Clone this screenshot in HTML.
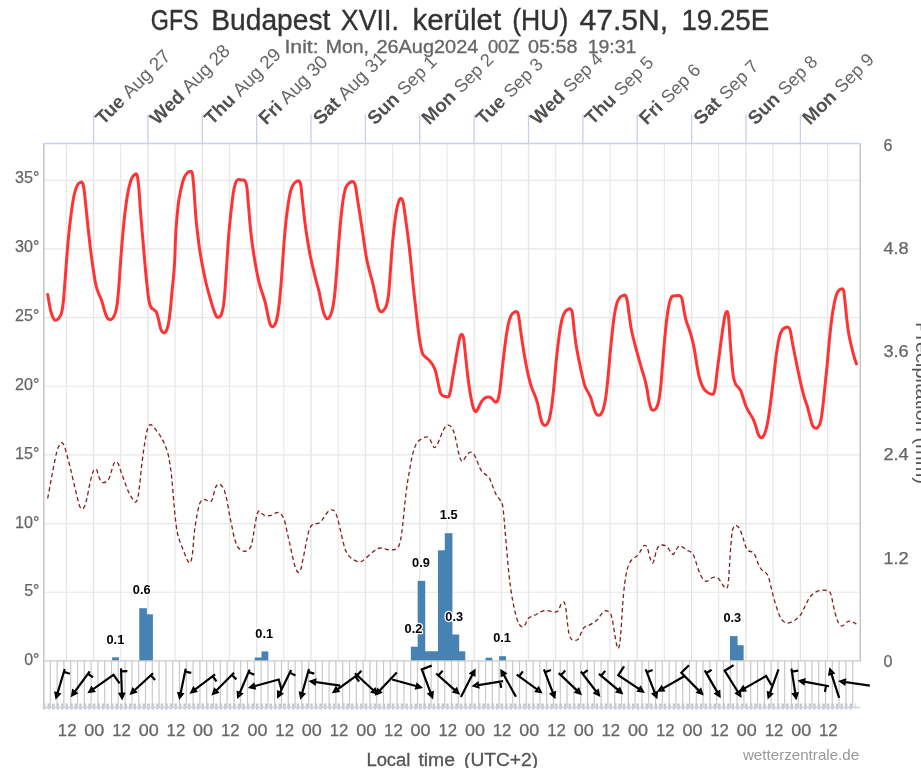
<!DOCTYPE html><html><head><meta charset="utf-8"><title>GFS Budapest XVII. kerület</title>
<style>html,body{margin:0;padding:0;background:#fff;}svg{display:block;}text{font-family:"Liberation Sans",sans-serif;}</style></head><body>
<svg style="will-change:transform" width="921" height="768" viewBox="0 0 921 768">
<rect width="921" height="768" fill="#ffffff"/>
<path d="M43.6,592.24H860.3M43.6,523.58H860.3M43.6,454.92H860.3M43.6,386.26H860.3M43.6,317.6H860.3M43.6,248.94H860.3M43.6,180.28H860.3" stroke="#e7e7e7" stroke-width="1.2" fill="none"/>
<path d="M66.36,143.5V660.9M120.73,143.5V660.9M175.1,143.5V660.9M229.47,143.5V660.9M283.84,143.5V660.9M338.21,143.5V660.9M392.58,143.5V660.9M446.95,143.5V660.9M501.32,143.5V660.9M555.69,143.5V660.9M610.06,143.5V660.9M664.43,143.5V660.9M718.8,143.5V660.9M773.17,143.5V660.9M827.54,143.5V660.9" stroke="#e8e8e8" stroke-width="1.2" fill="none"/>
<path d="M93.55,143.5V660.9M147.92,143.5V660.9M202.29,143.5V660.9M256.66,143.5V660.9M311.03,143.5V660.9M365.4,143.5V660.9M419.77,143.5V660.9M474.14,143.5V660.9M528.51,143.5V660.9M582.88,143.5V660.9M637.25,143.5V660.9M691.62,143.5V660.9M745.99,143.5V660.9M800.36,143.5V660.9" stroke="#e4e4e4" stroke-width="1.35" fill="none"/>
<path d="M50.3,660.9V707.5M57.1,660.9V707.5M63.9,660.9V707.5M70.7,660.9V707.5M77.5,660.9V707.5M84.3,660.9V707.5M91.1,660.9V707.5M97.9,660.9V707.5M104.7,660.9V707.5M111.5,660.9V707.5M118.3,660.9V707.5M125.1,660.9V707.5M131.9,660.9V707.5M138.7,660.9V707.5M145.5,660.9V707.5M152.3,660.9V707.5M159.1,660.9V707.5M165.9,660.9V707.5M172.7,660.9V707.5M179.5,660.9V707.5M186.3,660.9V707.5M193.1,660.9V707.5M199.9,660.9V707.5M206.7,660.9V707.5M213.5,660.9V707.5M220.3,660.9V707.5M227.1,660.9V707.5M233.9,660.9V707.5M240.7,660.9V707.5M247.5,660.9V707.5M254.3,660.9V707.5M261.1,660.9V707.5M267.9,660.9V707.5M274.7,660.9V707.5M281.5,660.9V707.5M288.3,660.9V707.5M295.1,660.9V707.5M301.9,660.9V707.5M308.7,660.9V707.5M315.5,660.9V707.5M322.3,660.9V707.5M329.1,660.9V707.5M335.9,660.9V707.5M342.7,660.9V707.5M349.5,660.9V707.5M356.3,660.9V707.5M363.1,660.9V707.5M369.9,660.9V707.5M376.7,660.9V707.5M383.5,660.9V707.5M390.3,660.9V707.5M397.1,660.9V707.5M403.9,660.9V707.5M410.7,660.9V707.5M417.5,660.9V707.5M424.3,660.9V707.5M431.1,660.9V707.5M437.9,660.9V707.5M444.7,660.9V707.5M451.5,660.9V707.5M458.3,660.9V707.5M465.1,660.9V707.5M471.9,660.9V707.5M478.7,660.9V707.5M485.5,660.9V707.5M492.3,660.9V707.5M499.1,660.9V707.5M505.9,660.9V707.5M512.7,660.9V707.5M519.5,660.9V707.5M526.3,660.9V707.5M533.1,660.9V707.5M539.9,660.9V707.5M546.7,660.9V707.5M553.5,660.9V707.5M560.3,660.9V707.5M567.1,660.9V707.5M573.9,660.9V707.5M580.7,660.9V707.5M587.5,660.9V707.5M594.3,660.9V707.5M601.1,660.9V707.5M607.9,660.9V707.5M614.7,660.9V707.5M621.5,660.9V707.5M628.3,660.9V707.5M635.1,660.9V707.5M641.9,660.9V707.5M648.7,660.9V707.5M655.5,660.9V707.5M662.3,660.9V707.5M669.1,660.9V707.5M675.9,660.9V707.5M682.7,660.9V707.5M689.5,660.9V707.5M696.3,660.9V707.5M703.1,660.9V707.5M709.9,660.9V707.5M716.7,660.9V707.5M723.5,660.9V707.5M730.3,660.9V707.5M737.1,660.9V707.5M743.9,660.9V707.5M750.7,660.9V707.5M757.5,660.9V707.5M764.3,660.9V707.5M771.1,660.9V707.5M777.9,660.9V707.5M784.7,660.9V707.5M791.5,660.9V707.5M798.3,660.9V707.5M805.1,660.9V707.5M811.9,660.9V707.5M818.7,660.9V707.5M825.5,660.9V707.5M832.3,660.9V707.5M839.1,660.9V707.5M845.9,660.9V707.5M852.7,660.9V707.5" stroke="#c9c9c9" stroke-width="1.2" fill="none"/>
<path d="M855.3,703.5V709" stroke="#d4d4d4" stroke-width="0.8" fill="none"/>
<path d="M44.2,703.4V709.4M48.73,703.4V709.4M53.26,703.4V709.4M57.79,703.4V709.4M62.32,703.4V709.4M66.85,703.4V709.4M71.38,703.4V709.4M75.92,703.4V709.4M80.45,703.4V709.4M84.98,703.4V709.4M89.51,703.4V709.4M94.04,703.4V709.4M98.57,703.4V709.4M103.1,703.4V709.4M107.63,703.4V709.4M112.16,703.4V709.4M116.69,703.4V709.4M121.22,703.4V709.4M125.75,703.4V709.4M130.29,703.4V709.4M134.82,703.4V709.4M139.35,703.4V709.4M143.88,703.4V709.4M148.41,703.4V709.4M152.94,703.4V709.4M157.47,703.4V709.4M162,703.4V709.4M166.53,703.4V709.4M171.06,703.4V709.4M175.59,703.4V709.4M180.12,703.4V709.4M184.66,703.4V709.4M189.19,703.4V709.4M193.72,703.4V709.4M198.25,703.4V709.4M202.78,703.4V709.4M207.31,703.4V709.4M211.84,703.4V709.4M216.37,703.4V709.4M220.9,703.4V709.4M225.43,703.4V709.4M229.96,703.4V709.4M234.5,703.4V709.4M239.03,703.4V709.4M243.56,703.4V709.4M248.09,703.4V709.4M252.62,703.4V709.4M257.15,703.4V709.4M261.68,703.4V709.4M266.21,703.4V709.4M270.74,703.4V709.4M275.27,703.4V709.4M279.8,703.4V709.4M284.33,703.4V709.4M288.86,703.4V709.4M293.4,703.4V709.4M297.93,703.4V709.4M302.46,703.4V709.4M306.99,703.4V709.4M311.52,703.4V709.4M316.05,703.4V709.4M320.58,703.4V709.4M325.11,703.4V709.4M329.64,703.4V709.4M334.17,703.4V709.4M338.7,703.4V709.4M343.23,703.4V709.4M347.77,703.4V709.4M352.3,703.4V709.4M356.83,703.4V709.4M361.36,703.4V709.4M365.89,703.4V709.4M370.42,703.4V709.4M374.95,703.4V709.4M379.48,703.4V709.4M384.01,703.4V709.4M388.54,703.4V709.4M393.07,703.4V709.4M397.6,703.4V709.4M402.14,703.4V709.4M406.67,703.4V709.4M411.2,703.4V709.4M415.73,703.4V709.4M420.26,703.4V709.4M424.79,703.4V709.4M429.32,703.4V709.4M433.85,703.4V709.4M438.38,703.4V709.4M442.91,703.4V709.4M447.44,703.4V709.4M451.97,703.4V709.4M456.51,703.4V709.4M461.04,703.4V709.4M465.57,703.4V709.4M470.1,703.4V709.4M474.63,703.4V709.4M479.16,703.4V709.4M483.69,703.4V709.4M488.22,703.4V709.4M492.75,703.4V709.4M497.28,703.4V709.4M501.81,703.4V709.4M506.34,703.4V709.4M510.88,703.4V709.4M515.41,703.4V709.4M519.94,703.4V709.4M524.47,703.4V709.4M529,703.4V709.4M533.53,703.4V709.4M538.06,703.4V709.4M542.59,703.4V709.4M547.12,703.4V709.4M551.65,703.4V709.4M556.18,703.4V709.4M560.72,703.4V709.4M565.25,703.4V709.4M569.78,703.4V709.4M574.31,703.4V709.4M578.84,703.4V709.4M583.37,703.4V709.4M587.9,703.4V709.4M592.43,703.4V709.4M596.96,703.4V709.4M601.49,703.4V709.4M606.02,703.4V709.4M610.55,703.4V709.4M615.09,703.4V709.4M619.62,703.4V709.4M624.15,703.4V709.4M628.68,703.4V709.4M633.21,703.4V709.4M637.74,703.4V709.4M642.27,703.4V709.4M646.8,703.4V709.4M651.33,703.4V709.4M655.86,703.4V709.4M660.39,703.4V709.4M664.92,703.4V709.4M669.45,703.4V709.4M673.99,703.4V709.4M678.52,703.4V709.4M683.05,703.4V709.4M687.58,703.4V709.4M692.11,703.4V709.4M696.64,703.4V709.4M701.17,703.4V709.4M705.7,703.4V709.4M710.23,703.4V709.4M714.76,703.4V709.4M719.29,703.4V709.4M723.82,703.4V709.4M728.36,703.4V709.4M732.89,703.4V709.4M737.42,703.4V709.4M741.95,703.4V709.4M746.48,703.4V709.4M751.01,703.4V709.4M755.54,703.4V709.4M760.07,703.4V709.4M764.6,703.4V709.4M769.13,703.4V709.4M773.66,703.4V709.4M778.19,703.4V709.4M782.73,703.4V709.4M787.26,703.4V709.4M791.79,703.4V709.4M796.32,703.4V709.4M800.85,703.4V709.4M805.38,703.4V709.4M809.91,703.4V709.4M814.44,703.4V709.4M818.97,703.4V709.4M823.5,703.4V709.4M828.03,703.4V709.4M832.56,703.4V709.4M837.1,703.4V709.4M841.63,703.4V709.4M846.16,703.4V709.4M850.69,703.4V709.4" stroke="#c8c8c8" stroke-width="2.5" fill="none"/>
<path d="M43.1,707.5H859.8" stroke="#c6d3ea" stroke-width="1.3" fill="none"/>
<g fill="#4682b4"><rect x="112.1" y="657.3" width="6.85" height="3.6"/><rect x="139.26" y="608.2" width="7.6" height="52.7"/><rect x="146.05" y="614.3" width="6.85" height="46.6"/><rect x="254.69" y="657.5" width="7.6" height="3.4"/><rect x="261.48" y="651.4" width="6.85" height="9.5"/><rect x="410.86" y="646.7" width="7.6" height="14.2"/><rect x="417.65" y="580.9" width="7.6" height="80"/><rect x="424.44" y="651.3" width="7.6" height="9.6"/><rect x="431.23" y="651.3" width="7.6" height="9.6"/><rect x="438.02" y="550.3" width="7.6" height="110.6"/><rect x="444.81" y="533.2" width="7.6" height="127.7"/><rect x="451.6" y="634.5" width="7.6" height="26.4"/><rect x="458.39" y="651.3" width="6.85" height="9.6"/><rect x="485.55" y="657.7" width="6.85" height="3.2"/><rect x="499.13" y="656.2" width="6.85" height="4.7"/><rect x="729.99" y="636.1" width="7.6" height="24.8"/><rect x="736.78" y="645.2" width="6.85" height="15.7"/></g>
<path d="M43.1,660.9H860.8" stroke="#cacaca" stroke-width="1.4" fill="none"/>
<path d="M43.8,143.5V708" stroke="#cbcbcb" stroke-width="1.7" fill="none"/>
<path d="M860.3,143.5V660.9" stroke="#c2c2c2" stroke-width="1.4" fill="none"/>
<path d="M43.1,143.5H860.8M93.55,114.4V143.5M147.92,114.4V143.5M202.29,114.4V143.5M256.66,114.4V143.5M311.03,114.4V143.5M365.4,114.4V143.5M419.77,114.4V143.5M474.14,114.4V143.5M528.51,114.4V143.5M582.88,114.4V143.5M637.25,114.4V143.5M691.62,114.4V143.5M745.99,114.4V143.5M800.36,114.4V143.5" stroke="#c4d1ea" stroke-width="1.3" fill="none"/>
<path d="M47.7,498.4C48.17,495.87 49.52,488.47 50.5,483.2C51.48,477.93 52.53,472.08 53.6,466.8C54.67,461.52 55.85,455.3 56.9,451.5C57.95,447.7 59,445.43 59.9,444C60.8,442.57 61.52,442.43 62.3,442.9C63.08,443.37 63.72,444.38 64.6,446.8C65.48,449.22 66.55,453.48 67.6,457.4C68.65,461.32 69.77,465.62 70.9,470.3C72.03,474.98 73.3,480.82 74.4,485.5C75.5,490.18 76.6,494.88 77.5,498.4C78.4,501.92 79.02,504.85 79.8,506.6C80.58,508.35 81.42,508.9 82.2,508.9C82.98,508.9 83.72,508.35 84.5,506.6C85.28,504.85 86.03,502.12 86.9,498.4C87.77,494.68 88.73,488.6 89.7,484.3C90.67,480 91.82,475.13 92.7,472.6C93.58,470.07 94.3,469.48 95,469.1C95.7,468.72 96.3,469.13 96.9,470.3C97.5,471.47 97.93,474.27 98.6,476.1C99.27,477.93 100.13,480.2 100.9,481.3C101.67,482.4 102.3,482.67 103.2,482.7C104.1,482.73 105.32,482.2 106.3,481.5C107.28,480.8 108.25,480.18 109.1,478.5C109.95,476.82 110.62,473.87 111.4,471.4C112.18,468.93 113.02,465.33 113.8,463.7C114.58,462.07 115.32,461.48 116.1,461.6C116.88,461.72 117.63,462.57 118.5,464.4C119.37,466.23 120.33,469.87 121.3,472.6C122.27,475.33 123.22,477.87 124.3,480.8C125.38,483.73 126.62,487.47 127.8,490.2C128.98,492.93 130.33,495.37 131.4,497.2C132.47,499.03 133.43,500.42 134.2,501.2C134.97,501.98 135.38,502.57 136,501.9C136.62,501.23 137.3,499.93 137.9,497.2C138.5,494.47 139.02,490.38 139.6,485.5C140.18,480.62 140.7,473.95 141.4,467.9C142.1,461.85 143.02,454.67 143.8,449.2C144.58,443.73 145.37,438.82 146.1,435.1C146.83,431.38 147.45,428.65 148.2,426.9C148.95,425.15 149.7,424.6 150.6,424.6C151.5,424.6 152.52,425.73 153.6,426.9C154.68,428.07 155.93,430.03 157.1,431.6C158.27,433.17 159.42,434.35 160.6,436.3C161.78,438.25 163.02,440.57 164.2,443.3C165.38,446.03 166.73,449.18 167.7,452.7C168.67,456.22 169.3,459.92 170,464.4C170.7,468.88 171.32,473.93 171.9,479.6C172.48,485.27 172.95,492.15 173.5,498.4C174.05,504.65 174.53,511.25 175.2,517.1C175.87,522.95 176.62,529.2 177.5,533.5C178.38,537.8 179.4,539.77 180.5,542.9C181.6,546.03 183,549.5 184.1,552.3C185.2,555.1 186.13,557.95 187.1,559.7C188.07,561.45 189.03,563.58 189.9,562.8C190.77,562.02 191.58,559.85 192.3,555C193.02,550.15 193.48,539.98 194.2,533.7C194.92,527.42 195.73,522.18 196.6,517.3C197.47,512.42 198.47,507.33 199.4,504.4C200.33,501.47 201.23,500.48 202.2,499.7C203.17,498.92 204.12,499.42 205.2,499.7C206.28,499.98 207.63,501.2 208.7,501.4C209.77,501.6 210.82,501.97 211.6,500.9C212.38,499.83 212.7,497.33 213.4,495C214.1,492.67 214.93,488.73 215.8,486.9C216.67,485.07 217.63,484.2 218.6,484C219.57,483.8 220.63,484.63 221.6,485.7C222.57,486.77 223.53,488.07 224.4,490.4C225.27,492.73 226.02,496 226.8,499.7C227.58,503.4 228.32,508.5 229.1,512.6C229.88,516.7 230.6,520 231.5,524.3C232.4,528.6 233.48,534.68 234.5,538.4C235.52,542.12 236.5,544.65 237.6,546.6C238.7,548.55 239.87,549.32 241.1,550.1C242.33,550.88 243.75,551.38 245,551.3C246.25,551.22 247.53,550.58 248.6,549.6C249.67,548.62 250.63,547.67 251.4,545.4C252.17,543.13 252.58,539.52 253.2,536C253.82,532.48 254.43,528 255.1,524.3C255.77,520.6 256.53,516.02 257.2,513.8C257.87,511.58 258.4,511.12 259.1,511C259.8,510.88 260.42,512.32 261.4,513.1C262.38,513.88 263.63,515.27 265,515.7C266.37,516.13 268.23,515.9 269.6,515.7C270.97,515.5 272.02,515.02 273.2,514.5C274.38,513.98 275.65,512.83 276.7,512.6C277.75,512.37 278.53,512.52 279.5,513.1C280.47,513.68 281.6,514.62 282.5,516.1C283.4,517.58 284.12,519.27 284.9,522C285.68,524.73 286.42,528.98 287.2,532.5C287.98,536.02 288.73,539.18 289.6,543.1C290.47,547.02 291.43,551.9 292.4,556C293.37,560.1 294.43,564.97 295.4,567.7C296.37,570.43 297.33,572.02 298.2,572.4C299.07,572.78 299.9,571.77 300.6,570C301.3,568.23 301.7,565.12 302.4,561.8C303.1,558.48 304.02,554 304.8,550.1C305.58,546.2 306.32,541.92 307.1,538.4C307.88,534.88 308.63,531.27 309.5,529C310.37,526.73 311.33,525.65 312.3,524.8C313.27,523.95 314.22,524.17 315.3,523.9C316.38,523.63 317.75,523.72 318.8,523.2C319.85,522.68 320.62,521.98 321.6,520.8C322.58,519.62 323.6,517.67 324.7,516.1C325.8,514.53 327.03,512.45 328.2,511.4C329.37,510.35 330.6,509.8 331.7,509.8C332.8,509.8 333.82,509.95 334.8,511.4C335.78,512.85 336.75,515.77 337.6,518.5C338.45,521.23 339.12,524.5 339.9,527.8C340.68,531.1 341.42,534.7 342.3,538.3C343.18,541.9 344.1,546.48 345.2,549.4C346.3,552.32 347.62,554.15 348.9,555.8C350.18,557.45 351.45,558.33 352.9,559.3C354.35,560.27 356.23,561.22 357.6,561.6C358.97,561.98 359.93,561.98 361.1,561.6C362.27,561.22 363.23,560.38 364.6,559.3C365.97,558.22 367.73,556.47 369.3,555.1C370.87,553.73 372.63,552.17 374,551.1C375.37,550.03 376.33,549.22 377.5,548.7C378.67,548.18 379.63,547.92 381,548C382.37,548.08 384.13,548.88 385.7,549.2C387.27,549.52 388.85,549.87 390.4,549.9C391.95,549.93 393.63,549.98 395,549.4C396.37,548.82 397.62,548.27 398.6,546.4C399.58,544.53 400.2,541.9 400.9,538.2C401.6,534.5 402.13,530.05 402.8,524.2C403.47,518.35 404.17,509.75 404.9,503.1C405.63,496.45 406.42,489.77 407.2,484.3C407.98,478.83 408.82,474.78 409.6,470.3C410.38,465.82 411.08,461.12 411.9,457.4C412.72,453.68 413.6,450.53 414.5,448C415.4,445.47 416.25,443.63 417.3,442.2C418.35,440.77 419.63,440.18 420.8,439.4C421.97,438.62 423.2,437.9 424.3,437.5C425.4,437.1 426.42,436.62 427.4,437C428.38,437.38 429.35,438.55 430.2,439.8C431.05,441.05 431.8,443.2 432.5,444.5C433.2,445.8 433.62,447.6 434.4,447.6C435.18,447.6 436.22,446.18 437.2,444.5C438.18,442.82 439.32,439.83 440.3,437.5C441.28,435.17 442.17,432.38 443.1,430.5C444.03,428.62 445,427.1 445.9,426.2C446.8,425.3 447.6,424.98 448.5,425.1C449.4,425.22 450.37,425.62 451.3,426.9C452.23,428.18 453.25,430.25 454.1,432.8C454.95,435.35 455.7,439.08 456.4,442.2C457.1,445.32 457.67,448.77 458.3,451.5C458.93,454.23 459.53,456.95 460.2,458.6C460.87,460.25 461.57,461.4 462.3,461.4C463.03,461.4 463.7,459.85 464.6,458.6C465.5,457.35 466.68,454.97 467.7,453.9C468.72,452.83 469.65,452.13 470.7,452.2C471.75,452.27 472.95,452.85 474,454.3C475.05,455.75 476.03,458.63 477,460.9C477.97,463.17 478.82,465.95 479.8,467.9C480.78,469.85 481.8,471.42 482.9,472.6C484,473.78 485.33,474.13 486.4,475C487.47,475.87 488.27,475.97 489.3,477.8C490.33,479.63 491.52,483.3 492.6,486C493.68,488.7 494.73,491.9 495.8,494C496.87,496.1 497.92,496.93 499,498.6C500.08,500.27 501.48,500.97 502.3,504C503.12,507.03 503.4,511.93 503.9,516.8C504.4,521.67 504.8,527.33 505.3,533.2C505.8,539.07 506.35,545.75 506.9,552C507.45,558.25 508,564.85 508.6,570.7C509.2,576.55 509.8,582.02 510.5,587.1C511.2,592.18 511.95,596.7 512.8,601.2C513.65,605.7 514.62,610.4 515.6,614.1C516.58,617.8 517.6,621.27 518.7,623.4C519.8,625.53 521.12,626.7 522.2,626.9C523.28,627.1 524.23,625.97 525.2,624.6C526.17,623.23 526.95,620.07 528,618.7C529.05,617.33 530.13,617.1 531.5,616.4C532.87,615.7 534.63,615.28 536.2,614.5C537.77,613.72 539.33,612.37 540.9,611.7C542.47,611.03 544.03,610.58 545.6,610.5C547.17,610.42 548.73,610.92 550.3,611.2C551.87,611.48 553.63,612.32 555,612.2C556.37,612.08 557.53,611.75 558.5,610.5C559.47,609.25 559.95,606.13 560.8,604.7C561.65,603.27 562.82,601.7 563.6,601.9C564.38,602.1 564.92,602.9 565.5,605.9C566.08,608.9 566.52,615.22 567.1,619.9C567.68,624.58 568.28,630.8 569,634C569.72,637.2 570.42,638.05 571.4,639.1C572.38,640.15 573.73,640.3 574.9,640.3C576.07,640.3 577.35,640.35 578.4,639.1C579.45,637.85 580.23,634.75 581.2,632.8C582.17,630.85 583.1,628.57 584.2,627.4C585.3,626.23 586.43,626.47 587.8,625.8C589.17,625.13 590.85,624.38 592.4,623.4C593.95,622.42 595.73,621.27 597.1,619.9C598.47,618.53 599.42,616.65 600.6,615.2C601.78,613.75 603.02,611.87 604.2,611.2C605.38,610.53 606.62,610.72 607.7,611.2C608.78,611.68 609.85,612.25 610.7,614.1C611.55,615.95 612.13,618.98 612.8,622.3C613.47,625.62 614.07,630.3 614.7,634C615.33,637.7 616.02,642.08 616.6,644.5C617.18,646.92 617.67,648.7 618.2,648.5C618.73,648.3 619.3,646.8 619.8,643.3C620.3,639.8 620.7,634.22 621.2,627.5C621.7,620.78 622.22,610.32 622.8,603C623.38,595.68 624,589.07 624.7,583.6C625.4,578.13 626.15,573.7 627,570.2C627.85,566.7 628.82,564.53 629.8,562.6C630.78,560.67 631.8,559.63 632.9,558.6C634,557.57 635.23,557.48 636.4,556.4C637.57,555.32 638.85,553.68 639.9,552.1C640.95,550.52 641.8,548 642.7,546.9C643.6,545.8 644.48,545.22 645.3,545.5C646.12,545.78 646.82,546.53 647.6,548.6C648.38,550.67 649.22,555.48 650,557.9C650.78,560.32 651.57,562.9 652.3,563.1C653.03,563.3 653.73,561.13 654.4,559.1C655.07,557.07 655.58,553.05 656.3,550.9C657.02,548.75 657.8,547.18 658.7,546.2C659.6,545.22 660.53,545.07 661.7,545C662.87,544.93 664.57,545.2 665.7,545.8C666.83,546.4 667.6,547.43 668.5,548.6C669.4,549.77 670.32,551.83 671.1,552.8C671.88,553.77 672.47,554.72 673.2,554.4C673.93,554.08 674.68,552.15 675.5,550.9C676.32,549.65 677.28,547.75 678.1,546.9C678.92,546.05 679.55,545.72 680.4,545.8C681.25,545.88 682.13,546.67 683.2,547.4C684.27,548.13 685.62,549.5 686.8,550.2C687.98,550.9 689.25,550.9 690.3,551.6C691.35,552.3 692.25,552.95 693.1,554.4C693.95,555.85 694.58,557.95 695.4,560.3C696.22,562.65 697.1,565.97 698,568.5C698.9,571.03 699.87,573.63 700.8,575.5C701.73,577.37 702.7,578.72 703.6,579.7C704.5,580.68 705.3,581.32 706.2,581.4C707.1,581.48 708.02,580.8 709,580.2C709.98,579.6 711.12,578.32 712.1,577.8C713.08,577.28 713.93,577.05 714.9,577.1C715.87,577.15 716.93,577.38 717.9,578.1C718.87,578.82 719.77,580.08 720.7,581.4C721.63,582.72 722.52,584.83 723.5,586C724.48,587.17 725.82,588.78 726.6,588.4C727.38,588.02 727.73,587.22 728.2,583.7C728.67,580.18 728.97,573.55 729.4,567.3C729.83,561.05 730.3,552.25 730.8,546.2C731.3,540.15 731.73,534.43 732.4,531C733.07,527.57 733.93,526.38 734.8,525.6C735.67,524.82 736.63,525.4 737.6,526.3C738.57,527.2 739.63,528.85 740.6,531C741.57,533.15 742.5,536.47 743.4,539.2C744.3,541.93 745.1,545.45 746,547.4C746.9,549.35 747.73,550.12 748.8,550.9C749.87,551.68 751.33,551.32 752.4,552.1C753.47,552.88 754.23,553.65 755.2,555.6C756.17,557.55 757.18,561.52 758.2,563.8C759.22,566.08 760.25,567.97 761.3,569.3C762.35,570.63 763.5,570.93 764.5,571.8C765.5,572.67 766.52,573.22 767.3,574.5C768.08,575.78 768.6,577.5 769.2,579.5C769.8,581.5 770.37,584.37 770.9,586.5C771.43,588.63 771.83,590.07 772.4,592.3C772.97,594.53 773.55,597.22 774.3,599.9C775.05,602.58 776.03,605.78 776.9,608.4C777.77,611.02 778.63,613.65 779.5,615.6C780.37,617.55 781.22,618.98 782.1,620.1C782.98,621.22 783.92,621.82 784.8,622.3C785.68,622.78 786.43,623 787.4,623C788.37,623 789.52,622.67 790.6,622.3C791.68,621.93 792.7,621.53 793.9,620.8C795.1,620.07 796.62,618.98 797.8,617.9C798.98,616.82 800.03,615.77 801,614.3C801.97,612.83 802.72,610.85 803.6,609.1C804.48,607.35 805.42,605.55 806.3,603.8C807.18,602.05 807.93,600.12 808.9,598.6C809.87,597.08 810.92,595.82 812.1,594.7C813.28,593.58 814.7,592.58 816,591.9C817.3,591.22 818.6,590.88 819.9,590.6C821.2,590.32 822.6,590.2 823.8,590.2C825,590.2 826.12,590.32 827.1,590.6C828.08,590.88 828.98,591 829.7,591.9C830.42,592.8 830.85,594.02 831.4,596C831.95,597.98 832.42,601.08 833,603.8C833.58,606.52 834.25,609.8 834.9,612.3C835.55,614.8 836.25,616.95 836.9,618.8C837.55,620.65 838.05,622.2 838.8,623.4C839.55,624.6 840.53,625.73 841.4,626C842.27,626.27 843.13,625.62 844,625C844.87,624.38 845.72,622.93 846.6,622.3C847.48,621.67 848.42,621.35 849.3,621.2C850.18,621.05 851.03,621.1 851.9,621.4C852.77,621.7 853.75,622.57 854.5,623C855.25,623.43 856.08,623.83 856.4,624" stroke="#831e1e" stroke-width="1.3" stroke-dasharray="4.2,3" fill="none" stroke-linejoin="round"/>
<path d="M47.7,294.5C48.17,297.12 49.63,306.4 50.5,310.2C51.37,314 52.12,315.62 52.9,317.3C53.68,318.98 54.23,320.12 55.2,320.3C56.17,320.48 57.63,319.68 58.7,318.4C59.77,317.12 60.82,315.52 61.6,312.6C62.38,309.68 62.78,306.77 63.4,300.9C64.02,295.03 64.6,286.38 65.3,277.4C66,268.42 66.73,256.75 67.6,247C68.47,237.25 69.43,227.48 70.5,218.9C71.57,210.32 72.83,201.17 74,195.5C75.17,189.83 76.33,187.13 77.5,184.9C78.67,182.67 80.1,182.3 81,182.1C81.9,181.9 82.32,181.87 82.9,183.7C83.48,185.53 83.83,187.63 84.5,193.1C85.17,198.57 86.03,208.3 86.9,216.5C87.77,224.7 88.73,234.1 89.7,242.3C90.67,250.5 91.68,258.67 92.7,265.7C93.72,272.73 94.82,279.88 95.8,284.5C96.78,289.12 97.63,290.75 98.6,293.4C99.57,296.05 100.63,297.6 101.6,300.4C102.57,303.2 103.47,307.32 104.4,310.2C105.33,313.08 106.33,316.13 107.2,317.7C108.07,319.27 108.7,319.48 109.6,319.6C110.5,319.72 111.63,319.57 112.6,318.4C113.57,317.23 114.62,315.13 115.4,312.6C116.18,310.07 116.67,308.28 117.3,303.2C117.93,298.12 118.62,289.52 119.2,282.1C119.78,274.68 120.25,266.12 120.8,258.7C121.35,251.28 121.83,245.02 122.5,237.6C123.17,230.18 123.92,221.62 124.8,214.2C125.68,206.78 126.7,198.95 127.8,193.1C128.9,187.25 130.22,182.22 131.4,179.1C132.58,175.98 133.93,175 134.9,174.4C135.87,173.8 136.53,173.17 137.2,175.5C137.87,177.83 138.32,181.95 138.9,188.4C139.48,194.85 140,205.22 140.7,214.2C141.4,223.18 142.3,233 143.1,242.3C143.9,251.6 144.87,263.1 145.5,270C146.13,276.9 146.45,279.45 146.9,283.7C147.35,287.95 147.75,292.17 148.2,295.5C148.65,298.83 149.07,301.65 149.6,303.7C150.13,305.75 150.72,306.82 151.4,307.8C152.08,308.78 152.93,308.98 153.7,309.6C154.47,310.22 155.4,310.67 156,311.5C156.6,312.33 156.85,313.17 157.3,314.6C157.75,316.03 158.23,318.12 158.7,320.1C159.17,322.08 159.65,324.75 160.1,326.5C160.55,328.25 160.8,329.53 161.4,330.6C162,331.67 162.93,332.75 163.7,332.9C164.47,333.05 165.32,332.57 166,331.5C166.68,330.43 167.27,328.55 167.8,326.5C168.33,324.45 168.75,322.23 169.2,319.2C169.65,316.17 170.05,312.7 170.5,308.3C170.95,303.9 171.43,297.67 171.9,292.8C172.37,287.93 172.92,283.23 173.3,279.1C173.68,274.97 173.95,271.4 174.2,268C174.45,264.6 174.52,264.93 174.8,258.7C175.08,252.47 175.33,239.58 175.9,230.6C176.47,221.62 177.42,211.43 178.2,204.8C178.98,198.17 179.62,195.28 180.6,190.8C181.58,186.32 182.93,180.95 184.1,177.9C185.27,174.85 186.55,173.55 187.6,172.5C188.65,171.45 189.62,171.48 190.4,171.6C191.18,171.72 191.72,170.4 192.3,173.2C192.88,176 193.32,181.18 193.9,188.4C194.48,195.62 195.2,209.15 195.8,216.5C196.4,223.85 196.83,226.83 197.5,232.5C198.17,238.17 198.9,244.57 199.8,250.5C200.7,256.43 201.8,262.43 202.9,268.1C204,273.77 205.23,279.62 206.4,284.5C207.57,289.38 208.73,293.3 209.9,297.4C211.07,301.5 212.35,305.98 213.4,309.1C214.45,312.22 215.33,314.73 216.2,316.1C217.07,317.47 217.77,317.5 218.6,317.3C219.43,317.1 220.38,316.87 221.2,314.9C222.02,312.93 222.85,309.78 223.5,305.5C224.15,301.22 224.55,296.22 225.1,289.2C225.65,282.18 226.2,272.38 226.8,263.4C227.4,254.42 228,243.88 228.7,235.3C229.4,226.72 230.23,218.93 231,211.9C231.77,204.87 232.52,197.98 233.3,193.1C234.08,188.22 234.92,184.87 235.7,182.6C236.48,180.33 237.03,179.93 238,179.5C238.97,179.07 240.33,179.77 241.5,180C242.67,180.23 244.1,179.68 245,180.9C245.9,182.12 246.3,182.92 246.9,187.3C247.5,191.68 247.93,199.6 248.6,207.2C249.27,214.8 250.05,225.1 250.9,232.9C251.75,240.7 252.72,247.55 253.7,254C254.68,260.45 255.82,266.52 256.8,271.6C257.78,276.68 258.63,280.8 259.6,284.5C260.57,288.2 261.63,290.68 262.6,293.8C263.57,296.92 264.53,299.68 265.4,303.2C266.27,306.72 267.02,311.38 267.8,314.9C268.58,318.42 269.4,322.35 270.1,324.3C270.8,326.25 271.3,326.4 272,326.6C272.7,326.8 273.52,326.67 274.3,325.5C275.08,324.33 275.92,322.93 276.7,319.6C277.48,316.27 278.22,312.13 279,305.5C279.78,298.87 280.62,289.55 281.4,279.8C282.18,270.05 282.93,256.77 283.7,247C284.47,237.23 285.22,228.62 286,221.2C286.78,213.78 287.62,207.57 288.4,202.5C289.18,197.43 289.85,193.85 290.7,190.8C291.55,187.75 292.52,185.77 293.5,184.2C294.48,182.63 295.7,181.95 296.6,181.4C297.5,180.85 298.2,180.32 298.9,180.9C299.6,181.48 300.22,181.7 300.8,184.9C301.38,188.1 301.73,194.05 302.4,200.1C303.07,206.15 304.02,214.95 304.8,221.2C305.58,227.45 306.25,232.13 307.1,237.6C307.95,243.07 308.92,248.92 309.9,254C310.88,259.08 311.9,263.42 313,268.1C314.1,272.78 315.45,278 316.5,282.1C317.55,286.2 318.45,288.98 319.3,292.7C320.15,296.42 320.82,300.9 321.6,304.4C322.38,307.9 323.17,311.37 324,313.7C324.83,316.03 325.7,317.8 326.6,318.4C327.5,319 328.47,318.67 329.4,317.3C330.33,315.93 331.35,313.72 332.2,310.2C333.05,306.68 333.8,302.05 334.5,296.2C335.2,290.35 335.77,282.92 336.4,275.1C337.03,267.28 337.63,257.88 338.3,249.3C338.97,240.72 339.67,231.4 340.4,223.6C341.13,215.8 341.92,208.17 342.7,202.5C343.48,196.83 344.32,192.53 345.1,189.6C345.88,186.67 346.5,186.15 347.4,184.9C348.3,183.65 349.47,182.6 350.5,182.1C351.53,181.6 352.77,181.23 353.6,181.9C354.43,182.57 354.83,183.07 355.5,186.1C356.17,189.13 356.75,194.63 357.6,200.1C358.45,205.57 359.63,212.65 360.6,218.9C361.57,225.15 362.47,231.35 363.4,237.6C364.33,243.85 365.22,250.93 366.2,256.4C367.18,261.87 368.2,265.92 369.3,270.4C370.4,274.88 371.75,279 372.8,283.3C373.85,287.6 374.75,292.3 375.6,296.2C376.45,300.1 377.12,304.17 377.9,306.7C378.68,309.23 379.4,310.73 380.3,311.4C381.2,312.07 382.28,311.68 383.3,310.7C384.32,309.72 385.53,308.12 386.4,305.5C387.27,302.88 387.88,300.07 388.5,295C389.12,289.93 389.52,282.72 390.1,275.1C390.68,267.48 391.3,257.5 392,249.3C392.7,241.1 393.48,232.73 394.3,225.9C395.12,219.07 396.07,212.6 396.9,208.3C397.73,204 398.55,201.73 399.3,200.1C400.05,198.47 400.75,198.1 401.4,198.5C402.05,198.9 402.5,199.1 403.2,202.5C403.9,205.9 404.73,212.65 405.6,218.9C406.47,225.15 407.5,232.58 408.4,240C409.3,247.42 410.18,255.6 411,263.4C411.82,271.2 412.52,279.38 413.3,286.8C414.08,294.22 414.87,300.62 415.7,307.9C416.53,315.18 417.52,324.4 418.3,330.5C419.08,336.6 419.67,340.6 420.4,344.5C421.13,348.4 421.8,351.75 422.7,353.9C423.6,356.05 424.7,356.32 425.8,357.4C426.9,358.48 428.13,359.12 429.3,360.4C430.47,361.68 431.75,363.27 432.8,365.1C433.85,366.93 434.75,368.58 435.6,371.4C436.45,374.22 437.12,378.48 437.9,382C438.68,385.52 439.52,390.23 440.3,392.5C441.08,394.77 441.7,394.93 442.6,395.6C443.5,396.27 444.72,396.32 445.7,396.5C446.68,396.68 447.72,397.55 448.5,396.7C449.28,395.85 449.7,394.63 450.4,391.4C451.1,388.17 451.85,382.38 452.7,377.3C453.55,372.22 454.6,366.17 455.5,360.9C456.4,355.63 457.32,349.8 458.1,345.7C458.88,341.6 459.53,338.18 460.2,336.3C460.87,334.42 461.52,334 462.1,334.4C462.68,334.8 463.12,335.07 463.7,338.7C464.28,342.33 464.9,349.77 465.6,356.2C466.3,362.63 467.12,371.05 467.9,377.3C468.68,383.55 469.52,389.02 470.3,393.7C471.08,398.38 471.82,402.47 472.6,405.4C473.38,408.33 474.22,410.52 475,411.3C475.78,412.08 476.45,411.28 477.3,410.1C478.15,408.92 479.12,405.95 480.1,404.2C481.08,402.45 482.18,400.73 483.2,399.6C484.22,398.47 485.23,397.83 486.2,397.4C487.17,396.97 488.07,396.83 489,397C489.93,397.17 490.93,397.7 491.8,398.4C492.67,399.1 493.42,400.58 494.2,401.2C494.98,401.82 495.8,402.57 496.5,402.1C497.2,401.63 497.77,400.97 498.4,398.4C499.03,395.83 499.6,392.17 500.3,386.7C501,381.23 501.75,373.02 502.6,365.6C503.45,358.18 504.47,349.03 505.4,342.2C506.33,335.37 507.22,329.1 508.2,324.6C509.18,320.1 510.28,317.27 511.3,315.2C512.32,313.13 513.4,312.78 514.3,312.2C515.2,311.62 516,311.2 516.7,311.7C517.4,312.2 517.85,312.07 518.5,315.2C519.15,318.33 519.85,325.23 520.6,330.5C521.35,335.77 522.13,341.35 523,346.8C523.87,352.25 524.83,358.12 525.8,363.2C526.77,368.28 527.82,373.2 528.8,377.3C529.78,381.4 530.72,384.87 531.7,387.8C532.68,390.73 533.73,392.35 534.7,394.9C535.67,397.45 536.63,399.78 537.5,403.1C538.37,406.42 539.12,411.48 539.9,414.8C540.68,418.12 541.43,421.25 542.2,423C542.97,424.75 543.68,425.1 544.5,425.3C545.32,425.5 546.27,425.37 547.1,424.2C547.93,423.03 548.72,421.43 549.5,418.3C550.28,415.17 551.07,410.67 551.8,405.4C552.53,400.13 553.18,393.93 553.9,386.7C554.62,379.47 555.18,370.8 556.1,362C557.02,353.2 558.38,341.12 559.4,333.9C560.42,326.68 561.23,322.42 562.2,318.7C563.17,314.98 564.18,313.17 565.2,311.6C566.22,310.03 567.4,309.73 568.3,309.3C569.2,308.87 569.93,308.42 570.6,309C571.27,309.58 571.72,309.43 572.3,312.8C572.88,316.17 573.45,323.73 574.1,329.2C574.75,334.67 575.33,340.13 576.2,345.6C577.07,351.07 578.28,356.93 579.3,362C580.32,367.07 581.33,371.9 582.3,376C583.27,380.1 584.12,383.87 585.1,386.6C586.08,389.33 587.22,390.45 588.2,392.4C589.18,394.35 590.15,395.95 591,398.3C591.85,400.65 592.52,404.03 593.3,406.5C594.08,408.97 594.92,411.65 595.7,413.1C596.48,414.55 597.15,415.02 598,415.2C598.85,415.38 599.9,415.27 600.8,414.2C601.7,413.13 602.57,411.65 603.4,408.8C604.23,405.95 605.05,402.17 605.8,397.1C606.55,392.03 607.2,385.42 607.9,378.4C608.6,371.38 609.3,362.42 610,355C610.7,347.58 611.37,340.55 612.1,333.9C612.83,327.25 613.55,320.37 614.4,315.1C615.25,309.83 616.22,305.3 617.2,302.3C618.18,299.3 619.32,298.23 620.3,297.1C621.28,295.97 622.25,295.77 623.1,295.5C623.95,295.23 624.7,294.57 625.4,295.5C626.1,296.43 626.67,297.83 627.3,301.1C627.93,304.37 628.53,310.42 629.2,315.1C629.87,319.78 630.45,324.7 631.3,329.2C632.15,333.7 633.22,337.8 634.3,342.1C635.38,346.4 636.62,350.72 637.8,355C638.98,359.28 640.22,363.7 641.4,367.8C642.58,371.9 643.93,375.88 644.9,379.6C645.87,383.32 646.5,386.4 647.2,390.1C647.9,393.8 648.43,398.68 649.1,401.8C649.77,404.92 650.53,407.4 651.2,408.8C651.87,410.2 652.32,410.2 653.1,410.2C653.88,410.2 655,410.2 655.9,408.8C656.8,407.4 657.72,405.3 658.5,401.8C659.28,398.3 659.95,393.65 660.6,387.8C661.25,381.95 661.78,374.13 662.4,366.7C663.02,359.27 663.63,350.62 664.3,343.2C664.97,335.78 665.65,328.43 666.4,322.2C667.15,315.97 668.02,309.9 668.8,305.8C669.58,301.7 670.28,299.25 671.1,297.6C671.92,295.95 672.72,296.22 673.7,295.9C674.68,295.58 675.95,295.73 677,295.7C678.05,295.67 679.18,295.2 680,295.7C680.82,296.2 681.23,296.23 681.9,298.7C682.57,301.17 683.33,306.98 684,310.5C684.67,314.02 685.12,316.88 685.9,319.8C686.68,322.72 687.73,325.07 688.7,328C689.67,330.93 690.8,334.08 691.7,337.4C692.6,340.72 693.32,343.8 694.1,347.9C694.88,352 695.63,357.5 696.4,362C697.17,366.5 697.92,371.38 698.7,374.9C699.48,378.42 700.23,380.77 701.1,383.1C701.97,385.43 702.83,387.35 703.9,388.9C704.97,390.45 706.28,391.53 707.5,392.4C708.72,393.27 710.18,393.9 711.2,394.1C712.22,394.3 712.93,394.65 713.6,393.6C714.27,392.55 714.62,391.5 715.2,387.8C715.78,384.1 716.32,377.65 717.1,371.4C717.88,365.15 718.97,357.33 719.9,350.3C720.83,343.27 721.83,335.07 722.7,329.2C723.57,323.33 724.35,318.03 725.1,315.1C725.85,312.17 726.62,311.2 727.2,311.6C727.78,312 728.13,313 728.6,317.5C729.07,322 729.5,331.58 730,338.6C730.5,345.62 731.05,353.37 731.6,359.6C732.15,365.83 732.63,371.9 733.3,376C733.97,380.1 734.7,382.23 735.6,384.2C736.5,386.17 737.8,386.62 738.7,387.8C739.6,388.98 740.23,389.55 741,391.3C741.77,393.05 742.45,395.77 743.3,398.3C744.15,400.83 745.12,404.15 746.1,406.5C747.08,408.85 748.1,410.45 749.2,412.4C750.3,414.35 751.65,416.07 752.7,418.2C753.75,420.33 754.63,422.67 755.5,425.2C756.37,427.73 757.12,431.37 757.9,433.4C758.68,435.43 759.38,436.82 760.2,437.4C761.02,437.98 761.9,437.95 762.8,436.9C763.7,435.85 764.67,434.22 765.6,431.1C766.53,427.98 767.5,423.47 768.4,418.2C769.3,412.93 770.1,406.53 771,399.5C771.9,392.47 772.87,383.82 773.8,376C774.73,368.18 775.63,359.23 776.6,352.6C777.57,345.97 778.62,340.02 779.6,336.2C780.58,332.38 781.52,331.13 782.5,329.7C783.48,328.27 784.53,328 785.5,327.6C786.47,327.2 787.52,326.83 788.3,327.3C789.08,327.77 789.5,327.75 790.2,330.4C790.9,333.05 791.65,338.72 792.5,343.2C793.35,347.68 794.32,352.42 795.3,357.3C796.28,362.18 797.42,367.82 798.4,372.5C799.38,377.18 800.23,381.3 801.2,385.4C802.17,389.5 803.18,393.58 804.2,397.1C805.22,400.62 806.32,403.18 807.3,406.5C808.28,409.82 809.25,413.88 810.1,417C810.95,420.12 811.62,423.37 812.4,425.2C813.18,427.03 813.93,427.6 814.8,428C815.67,428.4 816.7,428.45 817.6,427.6C818.5,426.75 819.42,425.63 820.2,422.9C820.98,420.17 821.57,416.67 822.3,411.2C823.03,405.73 823.82,397.52 824.6,390.1C825.38,382.68 826.22,374.9 827,366.7C827.78,358.5 828.53,348.72 829.3,340.9C830.07,333.08 830.82,325.85 831.6,319.8C832.38,313.75 833.22,308.7 834,304.6C834.78,300.5 835.52,297.55 836.3,295.2C837.08,292.85 837.8,291.55 838.7,290.5C839.6,289.45 840.88,288.9 841.7,288.9C842.52,288.9 843.02,288.08 843.6,290.5C844.18,292.92 844.62,298.12 845.2,303.4C845.78,308.68 846.43,316.73 847.1,322.2C847.77,327.67 848.42,331.92 849.2,336.2C849.98,340.48 850.9,344.18 851.8,347.9C852.7,351.62 853.82,355.83 854.6,358.5C855.38,361.17 856.18,363 856.5,363.9" stroke="#ff3333" stroke-width="3" fill="none" stroke-linejoin="round" stroke-linecap="round"/>
<text x="115.4" y="644.3" text-anchor="middle" font-size="12" font-weight="bold" fill="#000" stroke="#fff" stroke-width="2.4" stroke-linejoin="round" paint-order="stroke" textLength="17.8" lengthAdjust="spacingAndGlyphs">0.1</text>
<text x="141.7" y="594.3" text-anchor="middle" font-size="12" font-weight="bold" fill="#000" stroke="#fff" stroke-width="2.4" stroke-linejoin="round" paint-order="stroke" textLength="17.8" lengthAdjust="spacingAndGlyphs">0.6</text>
<text x="264.2" y="637.9" text-anchor="middle" font-size="12" font-weight="bold" fill="#000" stroke="#fff" stroke-width="2.4" stroke-linejoin="round" paint-order="stroke" textLength="17.8" lengthAdjust="spacingAndGlyphs">0.1</text>
<text x="448.7" y="519.4" text-anchor="middle" font-size="12" font-weight="bold" fill="#000" stroke="#fff" stroke-width="2.4" stroke-linejoin="round" paint-order="stroke" textLength="17.8" lengthAdjust="spacingAndGlyphs">1.5</text>
<text x="421" y="567" text-anchor="middle" font-size="12" font-weight="bold" fill="#000" stroke="#fff" stroke-width="2.4" stroke-linejoin="round" paint-order="stroke" textLength="17.8" lengthAdjust="spacingAndGlyphs">0.9</text>
<text x="413.5" y="632.8" text-anchor="middle" font-size="12" font-weight="bold" fill="#000" stroke="#fff" stroke-width="2.4" stroke-linejoin="round" paint-order="stroke" textLength="17.8" lengthAdjust="spacingAndGlyphs">0.2</text>
<text x="454.2" y="620.6" text-anchor="middle" font-size="12" font-weight="bold" fill="#000" stroke="#fff" stroke-width="2.4" stroke-linejoin="round" paint-order="stroke" textLength="17.8" lengthAdjust="spacingAndGlyphs">0.3</text>
<text x="502.1" y="642.3" text-anchor="middle" font-size="12" font-weight="bold" fill="#000" stroke="#fff" stroke-width="2.4" stroke-linejoin="round" paint-order="stroke" textLength="17.8" lengthAdjust="spacingAndGlyphs">0.1</text>
<text x="732.3" y="622" text-anchor="middle" font-size="12" font-weight="bold" fill="#000" stroke="#fff" stroke-width="2.4" stroke-linejoin="round" paint-order="stroke" textLength="17.8" lengthAdjust="spacingAndGlyphs">0.3</text>
<g stroke="#000" stroke-width="2.2" fill="none" stroke-linejoin="miter"><path transform="translate(60.42,683.5) rotate(16.6)" d="M0,10.3 L-2.1,10.3 0,14.5 2.1,10.3 0,10.3 0,-15.1 M0,-12.1 L6.3,-12.1"/><path transform="translate(80.79,683.5) rotate(36.3)" d="M0,10.3 L-2.1,10.3 0,14.5 2.1,10.3 0,10.3 0,-15.1 M0,-12.1 L6.3,-12.1"/><path transform="translate(101.16,683.5) rotate(54.8)" d="M0,10.3 L-2.1,10.3 0,14.5 2.1,10.3 0,10.3 0,-15.1 L10.6,-15.1"/><path transform="translate(121.53,683.5) rotate(-2)" d="M0,10.3 L-2.1,10.3 0,14.5 2.1,10.3 0,10.3 0,-15.1 M0,-12.1 L6.3,-12.1"/><path transform="translate(141.9,683.5) rotate(47.3)" d="M0,10.3 L-2.1,10.3 0,14.5 2.1,10.3 0,10.3 0,-15.1 M0,-12.1 L6.3,-12.1"/><path transform="translate(182.65,683.5) rotate(11.7)" d="M0,10.3 L-2.1,10.3 0,14.5 2.1,10.3 0,10.3 0,-15.1 M0,-12.1 L6.3,-12.1"/><path transform="translate(203.02,683.5) rotate(53.3)" d="M0,10.3 L-2.1,10.3 0,14.5 2.1,10.3 0,10.3 0,-15.1 M0,-12.1 L6.3,-12.1"/><path transform="translate(223.39,683.5) rotate(44.9)" d="M0,10.3 L-2.1,10.3 0,14.5 2.1,10.3 0,10.3 0,-15.1 M0,-12.1 L6.3,-12.1"/><path transform="translate(243.76,683.5) rotate(23)" d="M0,10.3 L-2.1,10.3 0,14.5 2.1,10.3 0,10.3 0,-15.1 M0,-12.1 L6.3,-12.1"/><path transform="translate(264.13,683.5) rotate(74.6)" d="M0,10.3 L-2.1,10.3 0,14.5 2.1,10.3 0,10.3 0,-15.1 L10.6,-15.1"/><path transform="translate(284.5,683.5) rotate(26)" d="M0,10.3 L-2.1,10.3 0,14.5 2.1,10.3 0,10.3 0,-15.1 M0,-12.1 L6.3,-12.1"/><path transform="translate(304.87,683.5) rotate(15.8)" d="M0,10.3 L-2.1,10.3 0,14.5 2.1,10.3 0,10.3 0,-15.1 M0,-12.1 L6.3,-12.1"/><path transform="translate(325.24,683.5) rotate(98.3)" d="M0,10.3 L-2.1,10.3 0,14.5 2.1,10.3 0,10.3 0,-15.1"/><path transform="translate(345.61,683.5) rotate(54.4)" d="M0,10.3 L-2.1,10.3 0,14.5 2.1,10.3 0,10.3 0,-15.1 M0,-12.1 L6.3,-12.1"/><path transform="translate(365.99,683.5) rotate(-47)" d="M0,10.3 L-2.1,10.3 0,14.5 2.1,10.3 0,10.3 0,-15.1 M0,-12.1 L6.3,-12.1"/><path transform="translate(386.36,683.5) rotate(43.7)" d="M0,10.3 L-2.1,10.3 0,14.5 2.1,10.3 0,10.3 0,-15.1"/><path transform="translate(406.73,683.5) rotate(-74.6)" d="M0,10.3 L-2.1,10.3 0,14.5 2.1,10.3 0,10.3 0,-15.1"/><path transform="translate(427.1,683.5) rotate(-20.6)" d="M0,10.3 L-2.1,10.3 0,14.5 2.1,10.3 0,10.3 0,-15.1 L10.6,-15.1"/><path transform="translate(447.47,683.5) rotate(-48.3)" d="M0,10.3 L-2.1,10.3 0,14.5 2.1,10.3 0,10.3 0,-15.1 M0,-12.1 L6.3,-12.1"/><path transform="translate(467.84,683.5) rotate(-152.8)" d="M0,10.3 L-2.1,10.3 0,14.5 2.1,10.3 0,10.3 0,-15.1"/><path transform="translate(488.21,683.5) rotate(81)" d="M0,10.3 L-2.1,10.3 0,14.5 2.1,10.3 0,10.3 0,-15.1 M0,-12.1 L6.3,-12.1"/><path transform="translate(508.58,683.5) rotate(150.7)" d="M0,10.3 L-2.1,10.3 0,14.5 2.1,10.3 0,10.3 0,-15.1"/><path transform="translate(528.95,683.5) rotate(-54.2)" d="M0,10.3 L-2.1,10.3 0,14.5 2.1,10.3 0,10.3 0,-15.1 M0,-12.1 L6.3,-12.1"/><path transform="translate(549.32,683.5) rotate(-20.9)" d="M0,10.3 L-2.1,10.3 0,14.5 2.1,10.3 0,10.3 0,-15.1 M0,-12.1 L6.3,-12.1"/><path transform="translate(569.69,683.5) rotate(-46.6)" d="M0,10.3 L-2.1,10.3 0,14.5 2.1,10.3 0,10.3 0,-15.1 M0,-12.1 L6.3,-12.1"/><path transform="translate(590.07,683.5) rotate(-37.5)" d="M0,10.3 L-2.1,10.3 0,14.5 2.1,10.3 0,10.3 0,-15.1 M0,-12.1 L6.3,-12.1"/><path transform="translate(610.44,683.5) rotate(-50)" d="M0,10.3 L-2.1,10.3 0,14.5 2.1,10.3 0,10.3 0,-15.1 M0,-12.1 L6.3,-12.1"/><path transform="translate(630.81,683.5) rotate(-56.4)" d="M0,10.3 L-2.1,10.3 0,14.5 2.1,10.3 0,10.3 0,-15.1 L10.6,-15.1"/><path transform="translate(651.18,683.5) rotate(-21.3)" d="M0,10.3 L-2.1,10.3 0,14.5 2.1,10.3 0,10.3 0,-15.1 M0,-12.1 L6.3,-12.1"/><path transform="translate(671.55,683.5) rotate(60.5)" d="M0,10.3 L-2.1,10.3 0,14.5 2.1,10.3 0,10.3 0,-15.1"/><path transform="translate(691.92,683.5) rotate(-44.5)" d="M0,10.3 L-2.1,10.3 0,14.5 2.1,10.3 0,10.3 0,-15.1 L10.6,-15.1"/><path transform="translate(712.29,683.5) rotate(-30)" d="M0,10.3 L-2.1,10.3 0,14.5 2.1,10.3 0,10.3 0,-15.1 M0,-12.1 L6.3,-12.1"/><path transform="translate(732.66,683.5) rotate(-32)" d="M0,10.3 L-2.1,10.3 0,14.5 2.1,10.3 0,10.3 0,-15.1 L10.6,-15.1"/><path transform="translate(753.03,683.5) rotate(60)" d="M0,10.3 L-2.1,10.3 0,14.5 2.1,10.3 0,10.3 0,-15.1 L10.6,-15.1"/><path transform="translate(773.4,683.5) rotate(19.7)" d="M0,10.3 L-2.1,10.3 0,14.5 2.1,10.3 0,10.3 0,-15.1"/><path transform="translate(793.78,683.5) rotate(-8.9)" d="M0,10.3 L-2.1,10.3 0,14.5 2.1,10.3 0,10.3 0,-15.1 M0,-12.1 L6.3,-12.1"/><path transform="translate(814.15,683.5) rotate(100.4)" d="M0,10.3 L-2.1,10.3 0,14.5 2.1,10.3 0,10.3 0,-15.1 M0,-12.1 L6.3,-12.1"/><path transform="translate(834.52,683.5) rotate(162.1)" d="M0,10.3 L-2.1,10.3 0,14.5 2.1,10.3 0,10.3 0,-15.1"/><path transform="translate(854.89,683.5) rotate(98.2)" d="M0,10.3 L-2.1,10.3 0,14.5 2.1,10.3 0,10.3 0,-15.1"/></g>
<text transform="translate(103.15,125.8) rotate(-45)" font-size="19" fill="#555"><tspan font-weight="bold" fill="#505050">Tue</tspan><tspan fill="#666" font-size="18.7" dx="1"> Aug 27</tspan></text>
<text transform="translate(157.52,125.8) rotate(-45)" font-size="19" fill="#555"><tspan font-weight="bold" fill="#505050">Wed</tspan><tspan fill="#666" font-size="18.7" dx="1"> Aug 28</tspan></text>
<text transform="translate(211.89,125.8) rotate(-45)" font-size="19" fill="#555"><tspan font-weight="bold" fill="#505050">Thu</tspan><tspan fill="#666" font-size="18.7" dx="1"> Aug 29</tspan></text>
<text transform="translate(266.26,125.8) rotate(-45)" font-size="19" fill="#555"><tspan font-weight="bold" fill="#505050">Fri</tspan><tspan fill="#666" font-size="18.7" dx="1"> Aug 30</tspan></text>
<text transform="translate(320.63,125.8) rotate(-45)" font-size="19" fill="#555"><tspan font-weight="bold" fill="#505050">Sat</tspan><tspan fill="#666" font-size="18.7" dx="1"> Aug 31</tspan></text>
<text transform="translate(375,125.8) rotate(-45)" font-size="19" fill="#555"><tspan font-weight="bold" fill="#505050">Sun</tspan><tspan fill="#666" font-size="18" dx="1"> Sep 1</tspan></text>
<text transform="translate(429.37,125.8) rotate(-45)" font-size="19" fill="#555"><tspan font-weight="bold" fill="#505050">Mon</tspan><tspan fill="#666" font-size="18" dx="1"> Sep 2</tspan></text>
<text transform="translate(483.74,125.8) rotate(-45)" font-size="19" fill="#555"><tspan font-weight="bold" fill="#505050">Tue</tspan><tspan fill="#666" font-size="18" dx="1"> Sep 3</tspan></text>
<text transform="translate(538.11,125.8) rotate(-45)" font-size="19" fill="#555"><tspan font-weight="bold" fill="#505050">Wed</tspan><tspan fill="#666" font-size="18" dx="1"> Sep 4</tspan></text>
<text transform="translate(592.48,125.8) rotate(-45)" font-size="19" fill="#555"><tspan font-weight="bold" fill="#505050">Thu</tspan><tspan fill="#666" font-size="18" dx="1"> Sep 5</tspan></text>
<text transform="translate(646.85,125.8) rotate(-45)" font-size="19" fill="#555"><tspan font-weight="bold" fill="#505050">Fri</tspan><tspan fill="#666" font-size="18" dx="1"> Sep 6</tspan></text>
<text transform="translate(701.22,125.8) rotate(-45)" font-size="19" fill="#555"><tspan font-weight="bold" fill="#505050">Sat</tspan><tspan fill="#666" font-size="18" dx="1"> Sep 7</tspan></text>
<text transform="translate(755.59,125.8) rotate(-45)" font-size="19" fill="#555"><tspan font-weight="bold" fill="#505050">Sun</tspan><tspan fill="#666" font-size="18" dx="1"> Sep 8</tspan></text>
<text transform="translate(809.96,125.8) rotate(-45)" font-size="19" fill="#555"><tspan font-weight="bold" fill="#505050">Mon</tspan><tspan fill="#666" font-size="18" dx="1"> Sep 9</tspan></text>
<text x="39.5" y="665.3" text-anchor="end" font-size="16" fill="#666" stroke="#666" stroke-width="0.25">0°</text>
<text x="39.5" y="596.43" text-anchor="end" font-size="16" fill="#666" stroke="#666" stroke-width="0.25">5°</text>
<text x="39.5" y="527.56" text-anchor="end" font-size="16" fill="#666" stroke="#666" stroke-width="0.25" textLength="24.4" lengthAdjust="spacingAndGlyphs">10°</text>
<text x="39.5" y="458.69" text-anchor="end" font-size="16" fill="#666" stroke="#666" stroke-width="0.25" textLength="24.4" lengthAdjust="spacingAndGlyphs">15°</text>
<text x="39.5" y="389.82" text-anchor="end" font-size="16" fill="#666" stroke="#666" stroke-width="0.25" textLength="24.4" lengthAdjust="spacingAndGlyphs">20°</text>
<text x="39.5" y="320.95" text-anchor="end" font-size="16" fill="#666" stroke="#666" stroke-width="0.25" textLength="24.4" lengthAdjust="spacingAndGlyphs">25°</text>
<text x="39.5" y="252.08" text-anchor="end" font-size="16" fill="#666" stroke="#666" stroke-width="0.25" textLength="24.4" lengthAdjust="spacingAndGlyphs">30°</text>
<text x="39.5" y="183.21" text-anchor="end" font-size="16" fill="#666" stroke="#666" stroke-width="0.25" textLength="24.4" lengthAdjust="spacingAndGlyphs">35°</text>
<text x="883.4" y="667" font-size="16" fill="#666" stroke="#666" stroke-width="0.25">0</text>
<text x="883.4" y="563.74" font-size="16" fill="#666" stroke="#666" stroke-width="0.25" textLength="25.2" lengthAdjust="spacingAndGlyphs">1.2</text>
<text x="883.4" y="460.48" font-size="16" fill="#666" stroke="#666" stroke-width="0.25" textLength="25.2" lengthAdjust="spacingAndGlyphs">2.4</text>
<text x="883.4" y="357.22" font-size="16" fill="#666" stroke="#666" stroke-width="0.25" textLength="25.2" lengthAdjust="spacingAndGlyphs">3.6</text>
<text x="883.4" y="253.96" font-size="16" fill="#666" stroke="#666" stroke-width="0.25" textLength="25.2" lengthAdjust="spacingAndGlyphs">4.8</text>
<text x="883.4" y="150.7" font-size="16" fill="#666" stroke="#666" stroke-width="0.25">6</text>
<text transform="translate(916.3,403) rotate(90)" text-anchor="middle" font-size="18" fill="#555" textLength="162" lengthAdjust="spacingAndGlyphs">Precipitation (mm)</text>
<text x="67.16" y="735.7" text-anchor="middle" font-size="16" fill="#666" stroke="#666" stroke-width="0.25" textLength="18.6" lengthAdjust="spacingAndGlyphs">12</text>
<text x="94.35" y="735.7" text-anchor="middle" font-size="16" fill="#666" stroke="#666" stroke-width="0.25" textLength="20" lengthAdjust="spacingAndGlyphs">00</text>
<text x="121.53" y="735.7" text-anchor="middle" font-size="16" fill="#666" stroke="#666" stroke-width="0.25" textLength="18.6" lengthAdjust="spacingAndGlyphs">12</text>
<text x="148.72" y="735.7" text-anchor="middle" font-size="16" fill="#666" stroke="#666" stroke-width="0.25" textLength="20" lengthAdjust="spacingAndGlyphs">00</text>
<text x="175.91" y="735.7" text-anchor="middle" font-size="16" fill="#666" stroke="#666" stroke-width="0.25" textLength="18.6" lengthAdjust="spacingAndGlyphs">12</text>
<text x="203.09" y="735.7" text-anchor="middle" font-size="16" fill="#666" stroke="#666" stroke-width="0.25" textLength="20" lengthAdjust="spacingAndGlyphs">00</text>
<text x="230.28" y="735.7" text-anchor="middle" font-size="16" fill="#666" stroke="#666" stroke-width="0.25" textLength="18.6" lengthAdjust="spacingAndGlyphs">12</text>
<text x="257.46" y="735.7" text-anchor="middle" font-size="16" fill="#666" stroke="#666" stroke-width="0.25" textLength="20" lengthAdjust="spacingAndGlyphs">00</text>
<text x="284.64" y="735.7" text-anchor="middle" font-size="16" fill="#666" stroke="#666" stroke-width="0.25" textLength="18.6" lengthAdjust="spacingAndGlyphs">12</text>
<text x="311.83" y="735.7" text-anchor="middle" font-size="16" fill="#666" stroke="#666" stroke-width="0.25" textLength="20" lengthAdjust="spacingAndGlyphs">00</text>
<text x="339.01" y="735.7" text-anchor="middle" font-size="16" fill="#666" stroke="#666" stroke-width="0.25" textLength="18.6" lengthAdjust="spacingAndGlyphs">12</text>
<text x="366.2" y="735.7" text-anchor="middle" font-size="16" fill="#666" stroke="#666" stroke-width="0.25" textLength="20" lengthAdjust="spacingAndGlyphs">00</text>
<text x="393.38" y="735.7" text-anchor="middle" font-size="16" fill="#666" stroke="#666" stroke-width="0.25" textLength="18.6" lengthAdjust="spacingAndGlyphs">12</text>
<text x="420.57" y="735.7" text-anchor="middle" font-size="16" fill="#666" stroke="#666" stroke-width="0.25" textLength="20" lengthAdjust="spacingAndGlyphs">00</text>
<text x="447.75" y="735.7" text-anchor="middle" font-size="16" fill="#666" stroke="#666" stroke-width="0.25" textLength="18.6" lengthAdjust="spacingAndGlyphs">12</text>
<text x="474.94" y="735.7" text-anchor="middle" font-size="16" fill="#666" stroke="#666" stroke-width="0.25" textLength="20" lengthAdjust="spacingAndGlyphs">00</text>
<text x="502.12" y="735.7" text-anchor="middle" font-size="16" fill="#666" stroke="#666" stroke-width="0.25" textLength="18.6" lengthAdjust="spacingAndGlyphs">12</text>
<text x="529.31" y="735.7" text-anchor="middle" font-size="16" fill="#666" stroke="#666" stroke-width="0.25" textLength="20" lengthAdjust="spacingAndGlyphs">00</text>
<text x="556.49" y="735.7" text-anchor="middle" font-size="16" fill="#666" stroke="#666" stroke-width="0.25" textLength="18.6" lengthAdjust="spacingAndGlyphs">12</text>
<text x="583.68" y="735.7" text-anchor="middle" font-size="16" fill="#666" stroke="#666" stroke-width="0.25" textLength="20" lengthAdjust="spacingAndGlyphs">00</text>
<text x="610.86" y="735.7" text-anchor="middle" font-size="16" fill="#666" stroke="#666" stroke-width="0.25" textLength="18.6" lengthAdjust="spacingAndGlyphs">12</text>
<text x="638.05" y="735.7" text-anchor="middle" font-size="16" fill="#666" stroke="#666" stroke-width="0.25" textLength="20" lengthAdjust="spacingAndGlyphs">00</text>
<text x="665.23" y="735.7" text-anchor="middle" font-size="16" fill="#666" stroke="#666" stroke-width="0.25" textLength="18.6" lengthAdjust="spacingAndGlyphs">12</text>
<text x="692.42" y="735.7" text-anchor="middle" font-size="16" fill="#666" stroke="#666" stroke-width="0.25" textLength="20" lengthAdjust="spacingAndGlyphs">00</text>
<text x="719.6" y="735.7" text-anchor="middle" font-size="16" fill="#666" stroke="#666" stroke-width="0.25" textLength="18.6" lengthAdjust="spacingAndGlyphs">12</text>
<text x="746.79" y="735.7" text-anchor="middle" font-size="16" fill="#666" stroke="#666" stroke-width="0.25" textLength="20" lengthAdjust="spacingAndGlyphs">00</text>
<text x="773.97" y="735.7" text-anchor="middle" font-size="16" fill="#666" stroke="#666" stroke-width="0.25" textLength="18.6" lengthAdjust="spacingAndGlyphs">12</text>
<text x="801.16" y="735.7" text-anchor="middle" font-size="16" fill="#666" stroke="#666" stroke-width="0.25" textLength="20" lengthAdjust="spacingAndGlyphs">00</text>
<text x="828.34" y="735.7" text-anchor="middle" font-size="16" fill="#666" stroke="#666" stroke-width="0.25" textLength="18.6" lengthAdjust="spacingAndGlyphs">12</text>
<text x="366.4" y="765.7" font-size="18" fill="#555" stroke="#555" stroke-width="0.3" textLength="44" lengthAdjust="spacingAndGlyphs">Local</text>
<text x="418.4" y="765.7" font-size="18" fill="#555" stroke="#555" stroke-width="0.3" textLength="36.5" lengthAdjust="spacingAndGlyphs">time</text>
<text x="464" y="765.7" font-size="18" fill="#555" stroke="#555" stroke-width="0.3" textLength="74.1" lengthAdjust="spacingAndGlyphs">(UTC+2)</text>
<text x="859.2" y="759.8" text-anchor="end" font-size="14.5" fill="#999" textLength="116.3" lengthAdjust="spacingAndGlyphs">wetterzentrale.de</text>
<text x="150.8" y="30.2" font-size="29" fill="#333" stroke="#333" stroke-width="0.35" textLength="47.8" lengthAdjust="spacingAndGlyphs">GFS</text>
<text x="211.2" y="30.2" font-size="29" fill="#333" stroke="#333" stroke-width="0.35" textLength="119.2" lengthAdjust="spacingAndGlyphs">Budapest</text>
<text x="340.8" y="30.2" font-size="29" fill="#333" stroke="#333" stroke-width="0.35" textLength="58.1" lengthAdjust="spacingAndGlyphs">XVII.</text>
<text x="412.4" y="30.2" font-size="29" fill="#333" stroke="#333" stroke-width="0.35" textLength="88.7" lengthAdjust="spacingAndGlyphs">kerület</text>
<text x="512.2" y="30.2" font-size="29" fill="#333" stroke="#333" stroke-width="0.35" textLength="56.1" lengthAdjust="spacingAndGlyphs">(HU)</text>
<text x="579.5" y="30.2" font-size="29" fill="#333" stroke="#333" stroke-width="0.35" textLength="88.7" lengthAdjust="spacingAndGlyphs">47.5N,</text>
<text x="681.4" y="30.2" font-size="29" fill="#333" stroke="#333" stroke-width="0.35" textLength="87.9" lengthAdjust="spacingAndGlyphs">19.25E</text>
<text x="284.4" y="53" font-size="18" fill="#666" stroke="#666" stroke-width="0.3" textLength="34.3" lengthAdjust="spacingAndGlyphs">Init:</text>
<text x="325.7" y="53" font-size="18" fill="#666" stroke="#666" stroke-width="0.3" textLength="43.3" lengthAdjust="spacingAndGlyphs">Mon,</text>
<text x="376.4" y="53" font-size="18" fill="#666" stroke="#666" stroke-width="0.3" textLength="102" lengthAdjust="spacingAndGlyphs">26Aug2024</text>
<text x="487.9" y="53" font-size="18" fill="#666" stroke="#666" stroke-width="0.3" textLength="31.7" lengthAdjust="spacingAndGlyphs">00Z</text>
<text x="527.9" y="53" font-size="18" fill="#666" stroke="#666" stroke-width="0.3" textLength="49.5" lengthAdjust="spacingAndGlyphs">05:58</text>
<text x="587.7" y="53" font-size="18" fill="#666" stroke="#666" stroke-width="0.3" textLength="48.7" lengthAdjust="spacingAndGlyphs">19:31</text>
</svg></body></html>
